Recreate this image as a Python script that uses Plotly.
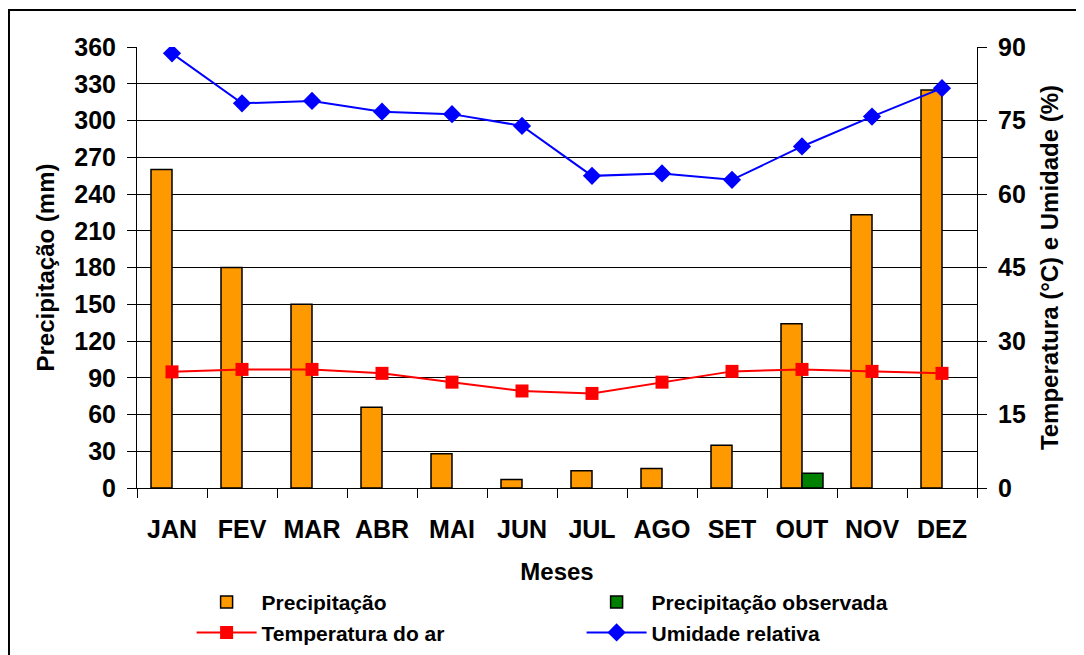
import plotly.graph_objects as go

months = ["JAN", "FEV", "MAR", "ABR", "MAI", "JUN", "JUL", "AGO", "SET", "OUT", "NOV", "DEZ"]
precipitacao = [260, 180, 150, 66, 28, 7, 14, 16, 35, 134, 223, 325]
precip_observada = [None, None, None, None, None, None, None, None, None, 12, None, None]
temperatura = [23.7, 24.2, 24.2, 23.4, 21.6, 19.8, 19.3, 21.6, 23.8, 24.2, 23.8, 23.4]
umidade = [88.7, 78.5, 79.0, 76.8, 76.3, 73.9, 63.7, 64.2, 62.9, 69.7, 75.8, 81.6]

FONT = "Liberation Sans, Arial, sans-serif"

fig = go.Figure()
fig.add_trace(go.Bar(
    x=months, y=precipitacao, name="Precipitação",
    marker=dict(color="#FF9900", line=dict(color="#000000", width=1.5)),
))
fig.add_trace(go.Bar(
    x=months, y=precip_observada, name="Precipitação observada",
    marker=dict(color="#008000", line=dict(color="#000000", width=1.5)),
))
fig.add_trace(go.Scatter(
    x=months, y=temperatura, name="Temperatura do ar", yaxis="y2",
    mode="lines+markers",
    line=dict(color="#FF0000", width=2),
    marker=dict(symbol="square", size=13, color="#FF0000"),
))
fig.add_trace(go.Scatter(
    x=months, y=umidade, name="Umidade relativa", yaxis="y2",
    mode="lines+markers",
    line=dict(color="#0000FF", width=2),
    marker=dict(symbol="diamond", size=14, color="#0000FF"),
))

fig.update_layout(
    width=1076, height=647,
    margin=dict(l=129, r=107, t=39, b=167, autoexpand=False),
    paper_bgcolor="white", plot_bgcolor="white",
    font=dict(family=FONT, color="black", size=24),
    barmode="group", bargap=0.4, bargroupgap=0,
    showlegend=True,
    legend=dict(
        orientation="h", x=0.065, xanchor="left", y=-0.213, yanchor="top",
        font=dict(family=FONT, size=21, color="black", weight="bold"),
        entrywidth=315, entrywidthmode="pixels", itemwidth=60,
        traceorder="normal", tracegroupgap=0,
        bgcolor="rgba(0,0,0,0)",
    ),
    xaxis=dict(
        type="category", automargin=False,
        range=[-0.5, len(months) - 0.5],
        title=dict(text="<b>Meses</b>", font=dict(size=24), standoff=21),
        tickfont=dict(size=25, weight="bold"),
        showline=True, linecolor="black", linewidth=1,
        ticks="outside", ticklen=9, tickcolor="black", tickson="boundaries",
        ticklabelstandoff=19,
        showgrid=False,
    ),
    yaxis=dict(
        range=[0, 360], dtick=30, tick0=0, automargin=False,
        title=dict(text="<b>Precipitação (mm)</b>", font=dict(size=24), standoff=12),
        tickfont=dict(size=25, weight="bold"),
        showline=True, linecolor="black", linewidth=1,
        ticks="outside", ticklen=9, tickcolor="black",
        ticklabelstandoff=6,
        showgrid=True, gridcolor="#000000", gridwidth=1,
        zeroline=False,
    ),
    yaxis2=dict(
        range=[0, 90], dtick=15, tick0=0, automargin=False,
        overlaying="y", side="right",
        title=dict(text="<b>Temperatura (°C) e Umidade (%)</b>", font=dict(size=24), standoff=16),
        tickfont=dict(size=25, weight="bold"),
        showline=True, linecolor="black", linewidth=1,
        ticks="outside", ticklen=9, tickcolor="black",
        ticklabelstandoff=6,
        showgrid=False, zeroline=False,
    ),
)

# outer chart frame (left and top edges visible)
fig.add_shape(type="rect", xref="paper", yref="paper",
              x0=-0.1524, x1=1.14, y0=-0.40, y1=1.0839,
              line=dict(color="black", width=2), fillcolor="rgba(0,0,0,0)", layer="below")

fig.write_html("out.html")
